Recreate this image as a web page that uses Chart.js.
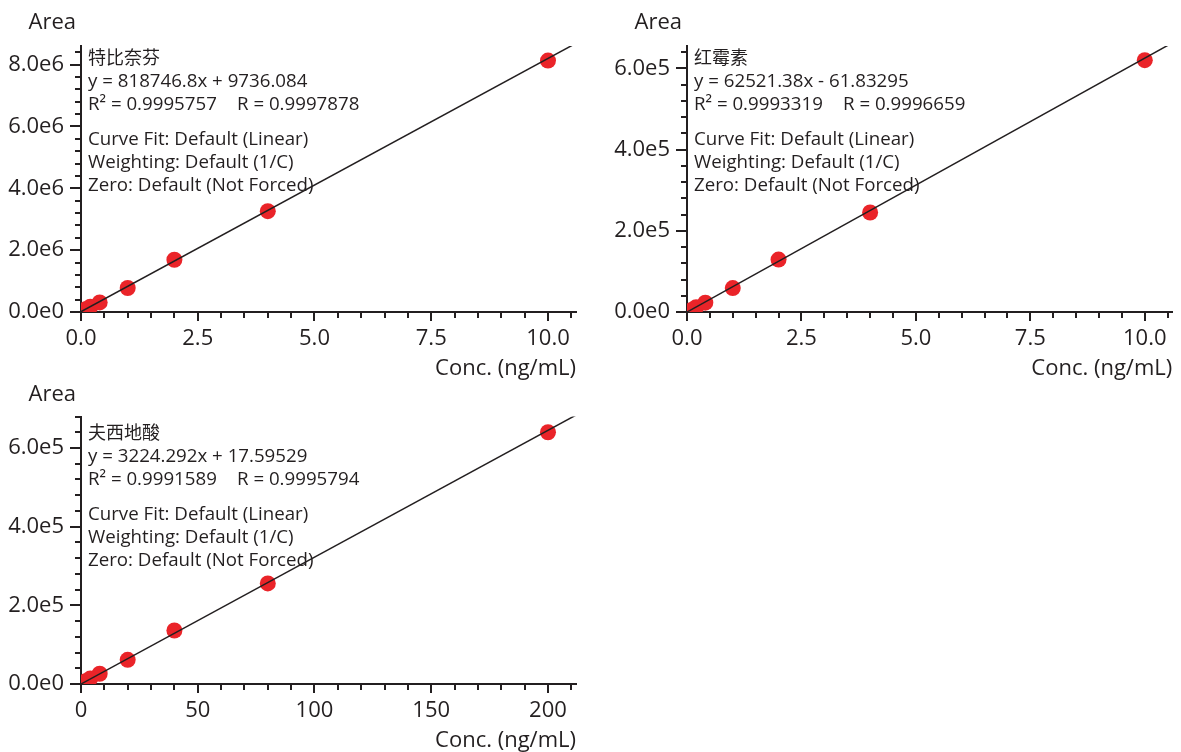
<!DOCTYPE html>
<html>
<head>
<meta charset="utf-8">
<script src="https://cdn.jsdelivr.net/npm/chart.js@4.4.0/dist/chart.umd.min.js"></script>
<style>
  html, body { margin: 0; padding: 0; background: #fff; }
  body { width: 1181px; height: 752px; position: relative; overflow: hidden; }
  canvas { position: absolute; }
</style>
</head>
<body>
<canvas id="c1" width="590" height="385" style="left:0;top:0"></canvas>
<canvas id="c2" width="591" height="385" style="left:590px;top:0"></canvas>
<canvas id="c3" width="590" height="379" style="left:0;top:375px"></canvas>
<script>
// calibration points
const conc1 = [0.1, 0.2, 0.4, 1, 2, 4, 10];
const area1 = [90000, 170000, 310000, 775000, 1690000, 3260000, 8130000];
const conc2 = [0.1, 0.2, 0.4, 1, 2, 4, 10];
const area2 = [5000, 12000, 23000, 59000, 129000, 245000, 620000];
const conc3 = [2, 4, 8, 20, 40, 80, 200];
const area3 = [7000, 14000, 26000, 61500, 136000, 255600, 640000];

// fit results shown in each panel
const names = ['特比奈芬', '红霉素', '夫西地酸'];
const slopes = [818746.8, 62521.38, 3224.292];
const intercepts = [9736.084, -61.83295, 17.59529];
const eqText = ['y = 818746.8x + 9736.084', 'y = 62521.38x - 61.83295', 'y = 3224.292x + 17.59529'];
const r2Text = ['R² = 0.9995757', 'R² = 0.9993319', 'R² = 0.9991589'];
const rText = ['R = 0.9997878', 'R = 0.9996659', 'R = 0.9995794'];
const fitLines = ['Curve Fit: Default (Linear)', 'Weighting: Default (1/C)', 'Zero: Default (Not Forced)'];

// axes
const xTicks1 = [0, 2.5, 5, 7.5, 10];
const xTicks3 = [0, 50, 100, 150, 200];
const yTicks1 = [0, 2e6, 4e6, 6e6, 8e6];
const yTicks2 = [0, 2e5, 4e5, 6e5];
const yTicks3 = [0, 2e5, 4e5, 6e5];
const xMinor = [0.5, 0.5, 10];
const yMinor = [4e5, 4e4, 4e4];
const xMax = [10.6, 10.6, 212];
const yMax = [8.6e6, 6.55e5, 6.8e5];

const ink = '#231f20';
const red = '#ea2429';
Chart.defaults.font.family = "'Open Sans', 'Noto Sans CJK SC', sans-serif";
Chart.defaults.color = ink;

const decor = {
  id: 'decor',
  afterDraw(chart) {
    const o = chart.options.plugins.decor;
    const i = o.idx;
    const { ctx, chartArea: a, scales: { x, y } } = chart;
    ctx.save();
    ctx.strokeStyle = ink;
    ctx.lineWidth = 2;
    ctx.beginPath();
    for (let k = 0; k * xMinor[i] <= x.max + 1e-9; k++) {
      const v = k * xMinor[i];
      const major = o.xTicks.some(t => Math.abs(t - v) < xMinor[i] / 100);
      const px = Math.round(x.getPixelForValue(v));
      ctx.moveTo(px, a.bottom);
      ctx.lineTo(px, a.bottom + (major ? 9 : 6));
    }
    for (let k = 0; k * yMinor[i] <= y.max * 1.0001; k++) {
      const v = k * yMinor[i];
      const major = o.yTicks.some(t => Math.abs(t - v) < yMinor[i] / 100);
      const py = Math.round(y.getPixelForValue(v));
      ctx.moveTo(a.left, py);
      ctx.lineTo(a.left - (major ? 11 : 6), py);
    }
    ctx.stroke();

    ctx.fillStyle = ink;
    ctx.font = "22px 'Open Sans', sans-serif";
    ctx.textAlign = 'right';
    ctx.textBaseline = 'alphabetic';
    ctx.fillText('Area', a.left - 5, o.areaY);

    ctx.textAlign = 'left';
    const tx = a.left + 7;
    ctx.font = "18px 'Noto Sans CJK SC', sans-serif";
    ctx.fillText(names[i], tx, 64);
    ctx.font = "18.7px 'Open Sans', sans-serif";
    ctx.fillText(eqText[i], tx, 86.5);
    ctx.fillText(r2Text[i], tx, 109.5);
    ctx.fillText(rText[i], tx + 149, 109.5);
    ctx.fillText(fitLines[0], tx, 145);
    ctx.fillText(fitLines[1], tx, 168);
    ctx.fillText(fitLines[2], tx, 191);
    ctx.restore();
  }
};

function makeChart(id, i, conc, area, xTicks, yTicks, pad, yW, xH, areaY, xFmt) {
  const pts = conc.map((c, k) => ({ x: c, y: area[k] }));
  const fit = [
    { x: 0, y: intercepts[i] },
    { x: xMax[i], y: slopes[i] * xMax[i] + intercepts[i] }
  ];
  return new Chart(document.getElementById(id), {
    type: 'scatter',
    data: {
      datasets: [
        { data: fit, showLine: true, borderColor: ink, borderWidth: 1.5, pointRadius: 0 },
        { data: pts, pointRadius: 8, backgroundColor: red, borderWidth: 0 }
      ]
    },
    options: {
      responsive: false,
      animation: false,
      events: [],
      layout: { padding: pad },
      plugins: {
        legend: { display: false },
        tooltip: { enabled: false },
        decor: { idx: i, xTicks: xTicks, yTicks: yTicks, areaY: areaY }
      },
      scales: {
        x: {
          type: 'linear', min: 0, max: xMax[i],
          afterBuildTicks: s => { s.ticks = xTicks.map(v => ({ value: v })); },
          afterFit: s => { s.height = xH; },
          grid: { display: false, drawTicks: false },
          border: { display: true, color: ink, width: 2 },
          ticks: { color: ink, font: { size: 22 }, padding: 14, maxRotation: 0, autoSkip: false, callback: xFmt },
          title: { display: true, text: 'Conc. (ng/mL)', align: 'end', color: ink, font: { size: 22 }, padding: 0 }
        },
        y: {
          type: 'linear', min: 0, max: yMax[i],
          afterBuildTicks: s => { s.ticks = yTicks.map(v => ({ value: v })); },
          afterFit: s => { s.width = yW; },
          grid: { display: false, drawTicks: false },
          border: { display: true, color: ink, width: 2 },
          ticks: {
            color: ink, font: { size: 22 }, padding: 17, autoSkip: false,
            callback: v => Number(v).toExponential(1).replace('e+', 'e')
          }
        }
      }
    },
    plugins: [decor]
  });
}

const oneDec = v => Number(v).toFixed(1);
const noDec = v => String(v);

makeChart('c1', 0, conc1, area1, xTicks1, yTicks1, { top: 46, right: 14, bottom: 3, left: 0 }, 81, 70, 29, oneDec);
makeChart('c2', 1, conc2, area2, xTicks1, yTicks2, { top: 46, right: 0, bottom: 3, left: 0 }, 97, 70, 29, oneDec);
makeChart('c3', 2, conc3, area3, xTicks3, yTicks3, { top: 41.5, right: 14, bottom: 0, left: 0 }, 81, 70, 26, noDec);
</script>
</body>
</html>
